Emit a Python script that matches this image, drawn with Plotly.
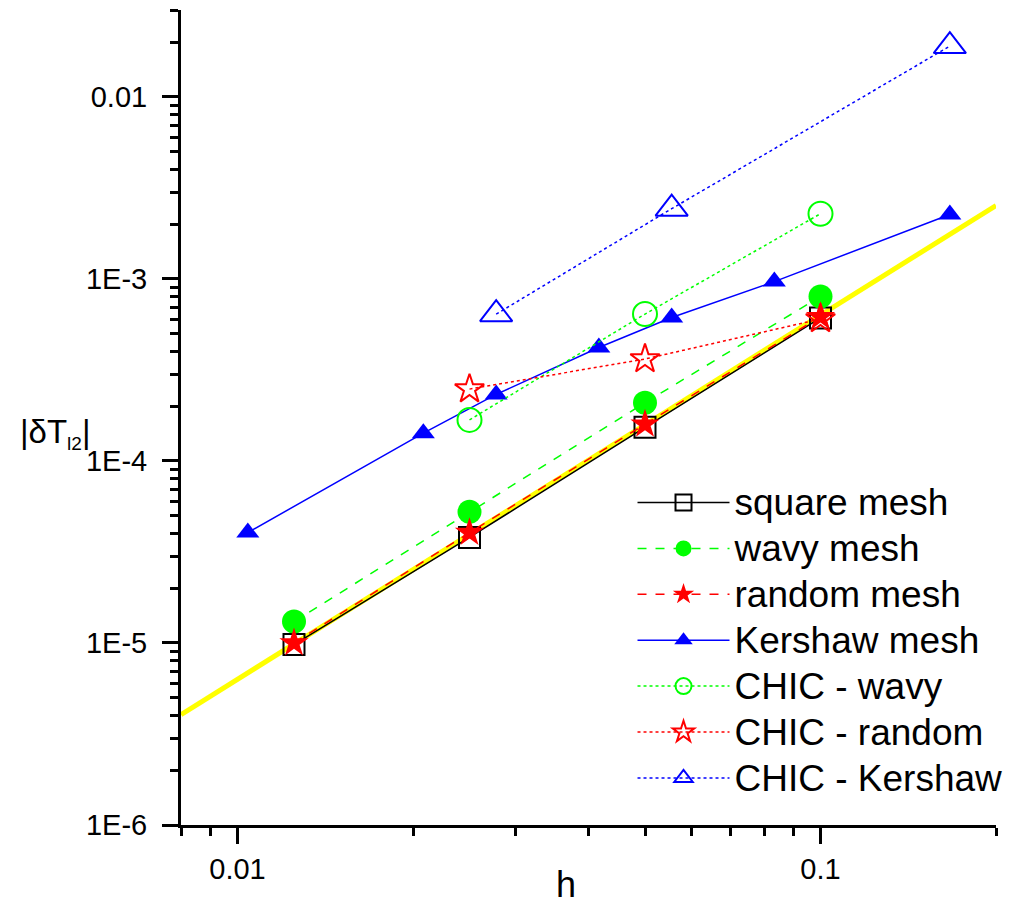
import plotly.graph_objects as go

# ---- data ----
h_std = [0.0125, 0.025, 0.05, 0.1]
err_square = [9.8e-6, 3.8e-5, 1.53e-4, 6.1e-4]
err_wavy = [1.31e-5, 5.26e-5, 2.09e-4, 8.0e-4]
err_random = [1.0e-5, 4.04e-5, 1.59e-4, 6.2e-4]

h_kershaw = [1/96, 1/48, 1/36, 1/24, 1/18, 1/12, 1/6]
err_kershaw = [4.04e-5, 1.42e-4, 2.32e-4, 4.2e-4, 6.14e-4, 9.66e-4, 2.26e-3]

h_chic = [0.025, 0.05, 0.1]
err_chic_wavy = [1.68e-4, 6.41e-4, 2.28e-3]
err_chic_random = [2.48e-4, 3.63e-4, 6.02e-4]

h_chic_kershaw = [1/36, 1/18, 1/6]
err_chic_kershaw = [6.4e-4, 2.43e-3, 1.9e-2]

ref_h = [0.008, 0.2]
ref_err = [4.04e-6, 2.53e-3]

series_names = ["square mesh", "wavy mesh", "random mesh", "Kershaw mesh",
                "CHIC - wavy", "CHIC - random", "CHIC - Kershaw"]

x_major = [0.01, 0.1]
x_major_text = ["0.01", "0.1"]
x_minor = [0.008, 0.009] + [k * 0.01 for k in range(2, 10)] + [0.2]

y_major = [1e-6, 1e-5, 1e-4, 1e-3, 1e-2]
y_major_text = ["1E-6", "1E-5", "1E-4", "1E-3", "0.01"]
y_minor = [k * 10.0 ** e for e in range(-6, -2) for k in range(2, 10)] + [0.02, 0.03]

FONT = "Liberation Sans, Arial, sans-serif"
GREEN = "#00FF00"
RED = "#FF0000"
BLUE = "#0000FF"


def lg(name):
    return "<span style='font-size:37px'>" + name + "</span>"


fig = go.Figure()

fig.add_trace(go.Scatter(x=ref_h, y=ref_err, mode="lines",
                         line=dict(color="#FFFF00", width=5), showlegend=False,
                         hoverinfo="skip"))

fig.add_trace(go.Scatter(x=h_std, y=err_square, mode="lines+markers", name=lg(series_names[0]),
                         line=dict(color="black", width=1.5),
                         marker=dict(symbol="square-open", size=21, color="black",
                                     line=dict(width=2, color="black"))))
fig.add_trace(go.Scatter(x=h_std, y=err_wavy, mode="lines+markers", name=lg(series_names[1]),
                         line=dict(color=GREEN, width=1.5, dash="dash"),
                         marker=dict(symbol="circle", size=24, color=GREEN)))
fig.add_trace(go.Scatter(x=h_std, y=err_random, mode="lines+markers", name=lg(series_names[2]),
                         line=dict(color=RED, width=1.5, dash="dash"),
                         marker=dict(symbol="star", size=22, color=RED)))
fig.add_trace(go.Scatter(x=h_kershaw, y=err_kershaw, mode="lines+markers", name=lg(series_names[3]),
                         line=dict(color=BLUE, width=1.5),
                         marker=dict(symbol="triangle-up", size=20, color=BLUE)))
fig.add_trace(go.Scatter(x=h_chic, y=err_chic_wavy, mode="lines+markers", name=lg(series_names[4]),
                         line=dict(color=GREEN, width=1.5, dash="dot"),
                         marker=dict(symbol="circle-open", size=24, color=GREEN,
                                     line=dict(width=2, color=GREEN))))
fig.add_trace(go.Scatter(x=h_chic, y=err_chic_random, mode="lines+markers", name=lg(series_names[5]),
                         line=dict(color=RED, width=1.5, dash="dot"),
                         marker=dict(symbol="star-open", size=22, color=RED,
                                     line=dict(width=2, color=RED))))
fig.add_trace(go.Scatter(x=h_chic_kershaw, y=err_chic_kershaw, mode="lines+markers",
                         name=lg(series_names[6]),
                         line=dict(color=BLUE, width=1.5, dash="dot"),
                         marker=dict(symbol="triangle-up-open", size=28, color=BLUE,
                                     line=dict(width=2, color=BLUE))))

axis_common = dict(type="log", showgrid=False, zeroline=False, showline=True,
                   linecolor="black", linewidth=3, ticks="outside", ticklen=16,
                   tickwidth=2.5, tickcolor="black",
                   tickfont=dict(family=FONT, size=29, color="black"))

fig.update_xaxes(**axis_common, range=[-2.09691, -0.69897],
                 tickvals=x_major, ticktext=x_major_text,
                 minor=dict(tickvals=x_minor, ticks="outside", ticklen=8,
                            tickwidth=2.5, tickcolor="black", showgrid=False))
fig.update_yaxes(**axis_common, range=[-6, -1.5229],
                 tickvals=y_major, ticktext=y_major_text, ticklabelstandoff=9,
                 minor=dict(tickvals=y_minor, ticks="outside", ticklen=8,
                            tickwidth=2.5, tickcolor="black", showgrid=False))

fig.add_annotation(text="|δT<sub><span style='font-size:19px'>l2</span></sub>|",
                   xref="paper", yref="paper", x=-0.2, y=0.48,
                   xanchor="left", yanchor="middle", showarrow=False,
                   font=dict(family=FONT, size=33, color="black"))
fig.add_annotation(text="h", xref="paper", yref="paper", x=0.472, y=-0.073,
                   xanchor="center", yanchor="middle", showarrow=False,
                   font=dict(family=FONT, size=36, color="black"))

fig.update_layout(
    width=1015, height=906,
    margin=dict(l=181, r=19, t=10, b=81, autoexpand=False),
    paper_bgcolor="white", plot_bgcolor="white",
    legend=dict(x=0.554, y=0.43, xanchor="left", yanchor="top",
                bgcolor="rgba(0,0,0,0)", borderwidth=0, itemwidth=92,
                font=dict(family=FONT, size=33, color="black"),
                tracegroupgap=0),
)

fig.write_html("out.html")
